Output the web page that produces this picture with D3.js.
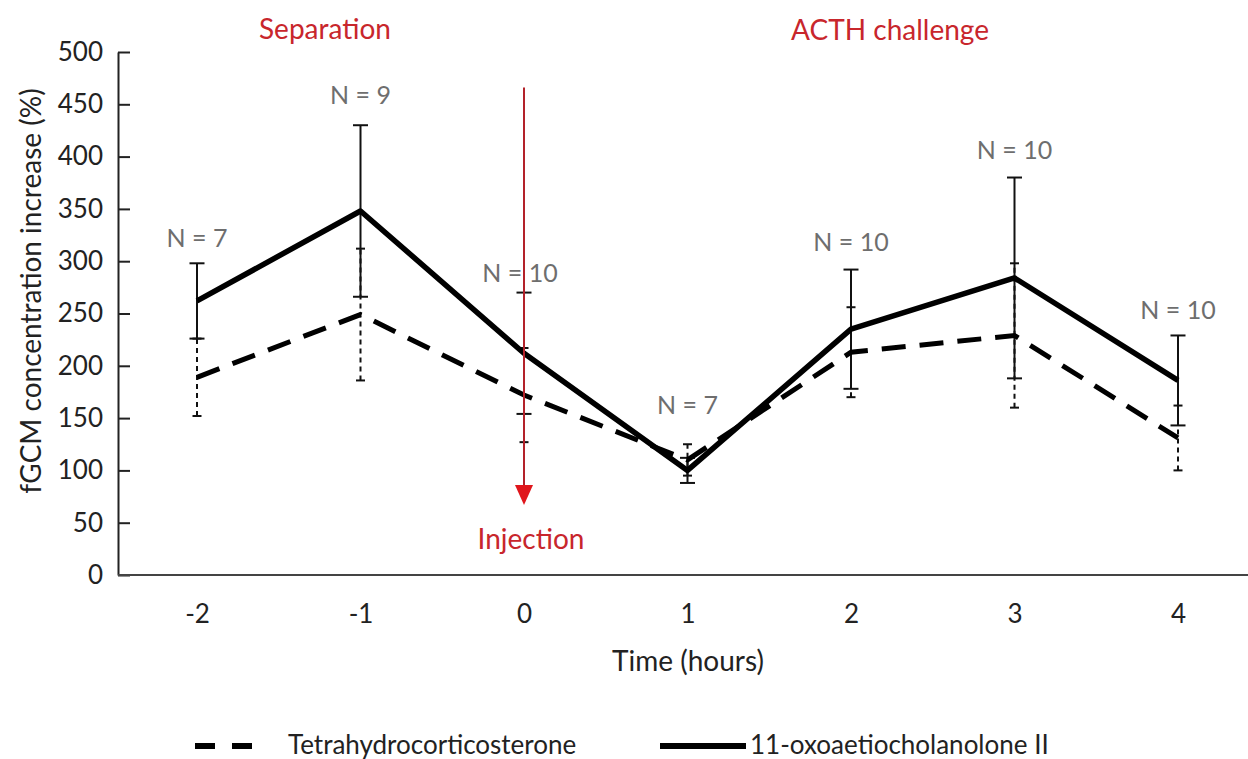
<!DOCTYPE html>
<html>
<head>
<meta charset="utf-8">
<script src="https://cdn.jsdelivr.net/npm/d3@7"></script>
<style>
  body { margin: 0; background: #fff; }
  text { font-family: Lato, "Open Sans", sans-serif; }
</style>
</head>
<body>
<div id="chart"></div>
<script>
// time points (hours)
const hours = [-2, -1, 0, 1, 2, 3, 4];
// 11-oxoaetiocholanolone II (solid)
const oxoMean = [262, 348, 212, 100, 235, 284, 186];
const oxoErr = [36, 82, 58, 12, 57, 96, 43];
// Tetrahydrocorticosterone (dashed)
const thcMean = [189, 249, 172, 110, 213, 229, 131];
const thcErr = [37, 63, 45, 15, 43, 69, 31];
// sample sizes and where their labels sit (in y units)
const nLabels = ['N = 7', 'N = 9', 'N = 10', 'N = 7', 'N = 10', 'N = 10', 'N = 10'];
const nLabelY = [322, 459, 289, 163, 318, 406, 253];
const yTicks = [0, 50, 100, 150, 200, 250, 300, 350, 400, 450, 500];

const width = 1248, height = 759;
const svg = d3.select('#chart').append('svg')
    .attr('width', width)
    .attr('height', height);

const axisX = 118;
const x = d3.scaleLinear().domain([-2, 4]).range([197, 1178]);
const y = d3.scaleLinear().domain([0, 500]).range([575, 52]);

const red = '#c8262c';

// y axis with inward ticks
const yAxis = svg.append('g')
    .attr('transform', `translate(${axisX},0)`)
    .call(d3.axisLeft(y).tickValues(yTicks).tickSizeInner(-12).tickSizeOuter(0).tickPadding(15));
yAxis.select('.domain').attr('stroke', '#222').attr('stroke-width', 2);
yAxis.selectAll('.tick line').attr('stroke', '#222').attr('stroke-width', 2);
yAxis.selectAll('.tick text').attr('font-size', 26).attr('fill', '#222')
    .style('font-family', 'Lato, sans-serif');

// x axis: labels only, plus a full-width baseline
const xAxis = svg.append('g')
    .attr('transform', `translate(0,${y(0)})`)
    .call(d3.axisBottom(x).tickValues(hours).tickFormat(d => String(d)).tickSize(0).tickPadding(30));
xAxis.select('.domain').remove();
xAxis.selectAll('.tick text').attr('font-size', 26).attr('fill', '#222')
    .style('font-family', 'Lato, sans-serif');
svg.append('line')
    .attr('x1', axisX).attr('x2', width)
    .attr('y1', y(0)).attr('y2', y(0))
    .attr('stroke', '#444').attr('stroke-width', 2);

// axis titles
svg.append('text')
    .attr('transform', `translate(41,291) rotate(-90)`)
    .attr('text-anchor', 'middle')
    .attr('font-size', 28)
    .attr('fill', '#222')
    .text('fGCM concentration increase (%)');
svg.append('text')
    .attr('x', 688).attr('y', 671)
    .attr('text-anchor', 'middle')
    .attr('font-size', 28)
    .attr('fill', '#222')
    .text('Time (hours)');

// error bars
function errorBars(mean, err, cls, capW, dash) {
    const g = svg.append('g').attr('class', cls);
    const data = hours.map((h, i) => ({ h, lo: mean[i] - err[i], hi: mean[i] + err[i] }));
    g.selectAll('line.bar').data(data).enter().append('line')
        .attr('class', 'bar')
        .attr('x1', d => x(d.h)).attr('x2', d => x(d.h))
        .attr('y1', d => y(d.lo)).attr('y2', d => y(d.hi))
        .attr('stroke', '#111').attr('stroke-width', 2)
        .attr('stroke-dasharray', dash);
    ['lo', 'hi'].forEach(k => {
        g.selectAll('line.cap-' + k).data(data).enter().append('line')
            .attr('class', 'cap-' + k)
            .attr('x1', d => x(d.h) - capW / 2).attr('x2', d => x(d.h) + capW / 2)
            .attr('y1', d => y(d[k])).attr('y2', d => y(d[k]))
            .attr('stroke', '#111').attr('stroke-width', 2);
    });
}
errorBars(thcMean, thcErr, 'thc-err', 9, '5,4');
errorBars(oxoMean, oxoErr, 'oxo-err', 15, null);

// series lines
const line = d3.line().x(d => x(d[0])).y(d => y(d[1]));
svg.append('path')
    .datum(hours.map((h, i) => [h, thcMean[i]]))
    .attr('d', line)
    .attr('fill', 'none').attr('stroke', '#000')
    .attr('stroke-width', 5).attr('stroke-dasharray', '24,14');
svg.append('path')
    .datum(hours.map((h, i) => [h, oxoMean[i]]))
    .attr('d', line)
    .attr('fill', 'none').attr('stroke', '#000')
    .attr('stroke-width', 5.5).attr('stroke-linejoin', 'round');

// N labels
svg.selectAll('.nlabel').data(hours).enter().append('text')
    .attr('class', 'nlabel')
    .attr('x', (h, i) => x(h) - (i === 2 ? 4 : 0))
    .attr('y', (h, i) => y(nLabelY[i]) + 9)
    .attr('text-anchor', 'middle')
    .attr('font-size', 25)
    .attr('fill', '#6e6e6e')
    .text((h, i) => nLabels[i]);

// injection arrow
svg.append('path')
    .attr('d', `M${x(0)},${y(466)} V${y(67) - 18}`)
    .attr('stroke', '#b3222a').attr('stroke-width', 2);
svg.append('path')
    .attr('d', `M${x(0) - 9},${y(67) - 20} L${x(0) + 9},${y(67) - 20} L${x(0)},${y(67)} Z`)
    .attr('fill', '#e0161c');

// event labels
svg.append('text').attr('x', 325).attr('y', 39).attr('text-anchor', 'middle')
    .attr('font-size', 28).attr('fill', red).text('Separation');
svg.append('text').attr('x', 890).attr('y', 40).attr('text-anchor', 'middle')
    .attr('font-size', 28).attr('fill', red).text('ACTH challenge');
svg.append('text').attr('x', 531).attr('y', 549).attr('text-anchor', 'middle')
    .attr('font-size', 28).attr('fill', red).text('Injection');

// legend
const legend = svg.append('g').attr('transform', 'translate(0,746)');
legend.append('line').attr('x1', 195).attr('x2', 252).attr('y1', 0).attr('y2', 0)
    .attr('stroke', '#000').attr('stroke-width', 6).attr('stroke-dasharray', '20,17');
legend.append('text').attr('x', 288).attr('y', 8).attr('font-size', 26).attr('fill', '#222')
    .text('Tetrahydrocorticosterone');
legend.append('line').attr('x1', 660).attr('x2', 746).attr('y1', 0).attr('y2', 0)
    .attr('stroke', '#000').attr('stroke-width', 6);
legend.append('text').attr('x', 750).attr('y', 8).attr('font-size', 26).attr('fill', '#222')
    .text('11-oxoaetiocholanolone II');
</script>
</body>
</html>
